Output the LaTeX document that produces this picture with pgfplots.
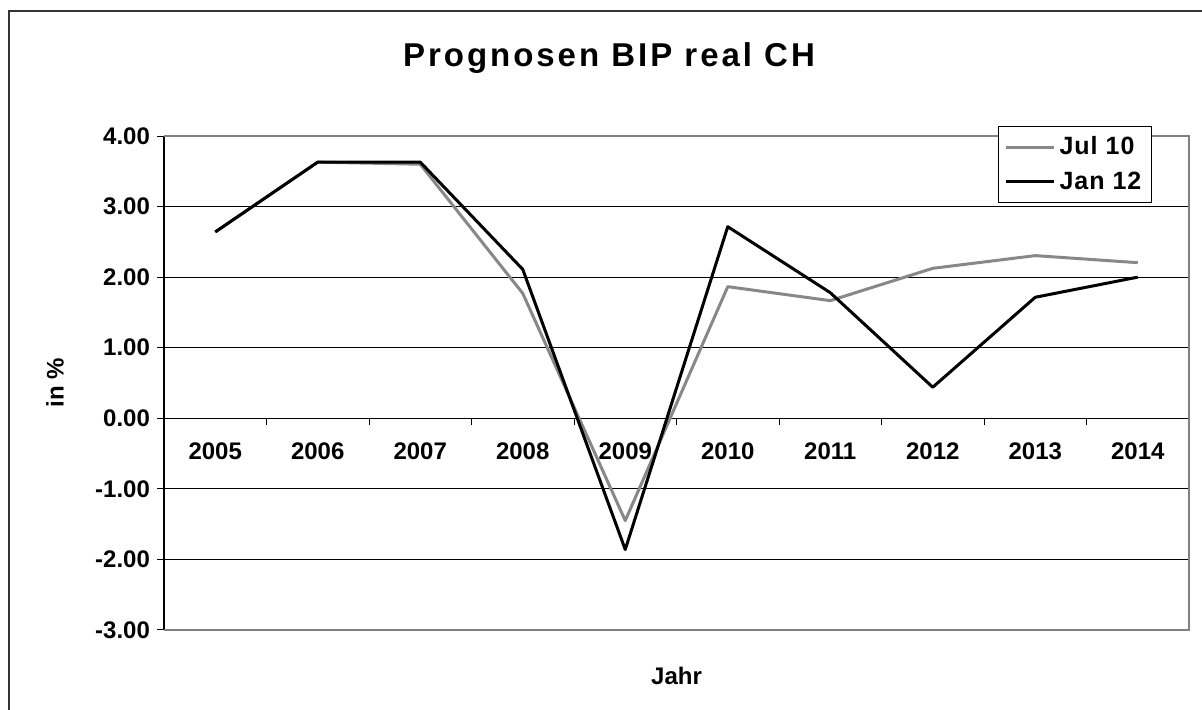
\documentclass[border=0pt]{standalone}
\usepackage{fontspec}
\setmainfont{Liberation Sans}
\newfontfamily\titlefont[LetterSpace=9]{Liberation Sans}
\newfontfamily\legfont[LetterSpace=4]{Liberation Sans}
\usepackage{pgfplots}
\pgfplotsset{compat=1.18}
\definecolor{jul}{HTML}{888888}
\definecolor{frame}{HTML}{808080}
\begin{document}
\begin{tikzpicture}
\useasboundingbox (0,0) rectangle (601pt,355pt);
\draw[line width=1pt, black!80] (4.5pt,-20pt) -- (4.5pt,349.5pt) -- (620pt,349.5pt);
\node[font=\titlefont\bfseries\fontsize{16.5}{19}\selectfont] at (304.5pt,326pt) {Prognosen BIP real CH};
\node[rotate=90, font=\bfseries\fontsize{12}{14}\selectfont] at (27.5pt,163.5pt) {in \%};
\node[font=\bfseries\fontsize{12}{14}\selectfont] at (338.25pt,17pt) {Jahr};
\begin{axis}[
  at={(82pt,40pt)}, anchor=south west, scale only axis,
  width=512.5pt, height=247pt,
  xmin=-0.5, xmax=9.5, ymin=-3, ymax=4,
  axis x line=middle, axis y line=left,
  axis line style={-, black, line width=0.6pt},
  tick align=outside,
  xtick={0,...,9},
  xticklabels={2005,2006,2007,2008,2009,2010,2011,2012,2013,2014},
  major x tick style={draw=none},
  minor xtick={-0.5,0.5,...,9.5},
  minor tick length=3.5pt,
  major tick length=3.5pt,
  minor x tick style={black, line width=0.5pt},
  major y tick style={black, line width=0.5pt},
  ytick={-3,...,4},
  yticklabels={-3.00,-2.00,-1.00,0.00,1.00,2.00,3.00,4.00},
  ymajorgrids,
  grid style={black, line width=0.5pt},
  ticklabel style={font=\bfseries\fontsize{12}{14}\selectfont},
  xticklabel style={anchor=north, yshift=-5pt},
  legend style={at={(0.8137,1.0202)}, anchor=north west, draw=black, line width=0.5pt, fill=white,
    font=\legfont\bfseries\fontsize{12.5}{14}\selectfont, row sep=3pt, inner sep=3pt},
  legend cell align=left,
  legend image code/.code={\draw[#1] (0pt,0pt) -- (24pt,0pt);},
  clip=false,
]
\draw[frame, line width=1pt] (rel axis cs:0,1) -- (rel axis cs:1,1) -- (rel axis cs:1,0) -- (rel axis cs:0,0);
\addplot[jul, line width=1.5pt, line join=round, no marks] coordinates {
 (0,2.64) (1,3.63) (2,3.60) (3,1.77) (4,-1.45) (5,1.865) (6,1.667) (7,2.125) (8,2.305) (9,2.205)
};
\addlegendentry{Jul 10}
\addplot[black, line width=1.5pt, line join=round, no marks] coordinates {
 (0,2.64) (1,3.63) (2,3.63) (3,2.11) (4,-1.86) (5,2.715) (6,1.78) (7,0.44) (8,1.715) (9,2.0)
};
\addlegendentry{Jan 12}
\end{axis}
\end{tikzpicture}
\end{document}
